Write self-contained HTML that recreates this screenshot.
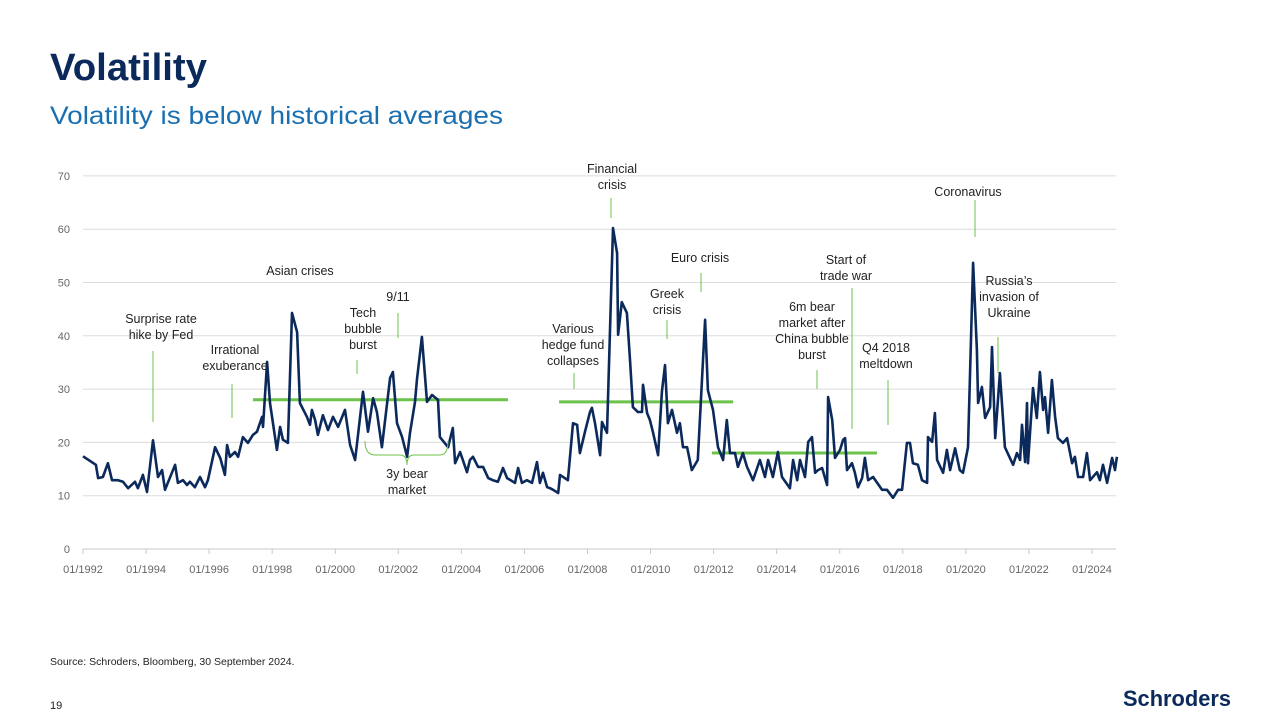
<!DOCTYPE html>
<html><head><meta charset="utf-8"><title>Volatility</title>
<style>
html,body{margin:0;padding:0;background:#fff;width:1280px;height:720px;overflow:hidden;font-family:"Liberation Sans",sans-serif;}
svg{display:block}
</style></head>
<body>
<svg id="page" width="1280" height="720" viewBox="0 0 1280 720" xmlns="http://www.w3.org/2000/svg">
  <text x="50" y="80" font-family="Liberation Sans, sans-serif" font-weight="bold" font-size="38" fill="#0b2a5b" textLength="157" lengthAdjust="spacingAndGlyphs">Volatility</text>
  <text x="50" y="124" font-family="Liberation Sans, sans-serif" font-size="25" fill="#1a6fb0" textLength="453" lengthAdjust="spacingAndGlyphs">Volatility is below historical averages</text>
  <g id="chart"></g>
  <text x="50" y="665" font-family="Liberation Sans, sans-serif" font-size="10.5" fill="#222">Source: Schroders, Bloomberg, 30 September 2024.</text>
  <text x="50" y="709" font-family="Liberation Sans, sans-serif" font-size="11" fill="#222">19</text>
  <text x="1123" y="706" font-family="Liberation Sans, sans-serif" font-weight="bold" font-size="22" fill="#0b2a5b" textLength="108" lengthAdjust="spacingAndGlyphs">Schroders</text>
</svg>
<script>
// ---- data ----
const dates = [1992.00,1992.41,1992.48,1992.63,1992.79,1992.92,1993.11,1993.27,1993.43,1993.65,1993.74,1993.90,1994.03,1994.22,1994.38,1994.51,1994.60,1994.92,1995.01,1995.17,1995.30,1995.39,1995.55,1995.71,1995.87,1995.96,1996.19,1996.35,1996.50,1996.57,1996.66,1996.82,1996.92,1997.07,1997.23,1997.39,1997.52,1997.68,1997.71,1997.84,1997.93,1998.15,1998.25,1998.34,1998.50,1998.63,1998.79,1998.88,1999.10,1999.20,1999.26,1999.36,1999.45,1999.61,1999.77,1999.93,2000.09,2000.31,2000.47,2000.63,2000.88,2001.04,2001.20,2001.32,2001.48,2001.74,2001.83,2001.96,2002.12,2002.28,2002.37,2002.53,2002.59,2002.75,2002.91,2003.07,2003.26,2003.32,2003.58,2003.73,2003.80,2003.96,2004.18,2004.27,2004.37,2004.53,2004.69,2004.85,2005.00,2005.16,2005.32,2005.45,2005.70,2005.80,2005.92,2006.08,2006.24,2006.40,2006.49,2006.59,2006.72,2006.81,2006.91,2007.07,2007.13,2007.38,2007.54,2007.67,2007.76,2007.92,2008.08,2008.14,2008.24,2008.40,2008.46,2008.62,2008.81,2008.94,2008.97,2009.09,2009.25,2009.35,2009.44,2009.60,2009.73,2009.76,2009.89,2009.98,2010.08,2010.24,2010.36,2010.46,2010.55,2010.68,2010.84,2010.93,2011.03,2011.16,2011.31,2011.50,2011.73,2011.82,2011.98,2012.14,2012.30,2012.42,2012.52,2012.68,2012.77,2012.93,2013.06,2013.25,2013.47,2013.63,2013.73,2013.88,2014.04,2014.17,2014.42,2014.52,2014.65,2014.74,2014.90,2015.00,2015.12,2015.22,2015.31,2015.44,2015.60,2015.63,2015.76,2015.85,2016.01,2016.11,2016.17,2016.23,2016.39,2016.48,2016.58,2016.71,2016.80,2016.90,2017.06,2017.19,2017.34,2017.50,2017.69,2017.85,2017.98,2018.13,2018.23,2018.32,2018.48,2018.61,2018.77,2018.80,2018.93,2019.02,2019.09,2019.28,2019.40,2019.50,2019.66,2019.81,2019.91,2020.07,2020.23,2020.35,2020.39,2020.51,2020.61,2020.77,2020.83,2020.93,2021.08,2021.24,2021.50,2021.62,2021.72,2021.78,2021.88,2021.94,2021.97,2022.13,2022.25,2022.35,2022.45,2022.51,2022.61,2022.73,2022.83,2022.92,2023.08,2023.21,2023.37,2023.46,2023.56,2023.72,2023.84,2023.94,2024.16,2024.25,2024.35,2024.48,2024.64,2024.73,2024.79];
const vix = [17.4,15.8,13.3,13.5,16.1,12.9,12.9,12.6,11.4,12.6,11.4,13.9,10.7,20.4,13.5,14.8,11.1,15.8,12.4,12.9,12.0,12.6,11.6,13.5,11.6,12.9,19.1,17.1,13.9,19.5,17.3,18.2,17.3,21.0,19.9,21.4,22.0,24.8,22.9,35.1,27.4,18.6,22.9,20.5,19.9,44.3,40.7,27.4,24.8,23.3,26.1,24.2,21.4,25.1,22.3,24.8,22.9,26.1,19.5,16.7,29.5,22.0,28.3,25.7,19.1,32.1,33.2,23.6,21.0,17.3,21.8,27.6,31.7,39.8,27.6,28.9,28.0,21.0,19.1,22.7,16.1,18.2,14.4,16.7,17.3,15.4,15.4,13.3,12.9,12.6,15.2,13.3,12.4,15.2,12.4,12.9,12.4,16.3,12.4,14.3,11.6,11.4,11.1,10.5,13.9,12.9,23.6,23.3,18.0,22.0,25.7,26.5,23.6,17.6,23.8,21.8,60.2,55.5,40.2,46.3,44.3,35.5,26.6,25.7,25.7,30.8,25.5,24.2,21.8,17.6,29.5,34.5,23.6,26.1,21.8,23.6,19.1,19.1,14.8,16.7,43.0,29.8,26.1,19.1,16.7,24.2,18.0,18.0,15.4,18.0,15.4,12.9,16.7,13.5,16.7,13.5,18.2,13.5,11.4,16.7,12.9,16.7,13.5,20.1,21.0,14.3,14.8,15.2,12.0,28.5,24.2,17.1,18.6,20.5,20.8,14.8,16.1,14.3,11.6,13.3,17.1,12.9,13.5,12.4,11.1,11.1,9.6,11.1,11.1,19.9,19.9,16.1,15.8,12.9,12.4,21.0,20.1,25.5,16.7,14.3,18.6,14.8,18.9,14.8,14.3,19.1,53.7,37.3,27.4,30.4,24.6,26.6,37.9,20.8,33.0,19.1,15.8,18.0,16.7,23.3,16.3,27.4,16.1,30.2,24.6,33.2,26.1,28.5,21.8,31.7,24.8,20.8,19.9,20.8,16.1,17.3,13.5,13.5,18.0,12.9,14.4,12.9,15.8,12.4,17.1,14.8,17.3];
const yTicks = [0,10,20,30,40,50,60,70];
const xTickYears = [1992,1994,1996,1998,2000,2002,2004,2006,2008,2010,2012,2014,2016,2018,2020,2022,2024];
const avgStart = [1997.39,2007.10,2011.95];
const avgEnd = [2005.48,2012.62,2017.18];
const avgValue = [28.0,27.6,18.0];

// ---- axes ----
const X0=83, PXYR=31.53, Y0=549, PXU=5.33;
const xs = t => X0 + (t-1992)*PXYR;
const ys = v => Y0 - v*PXU;
const NS='http://www.w3.org/2000/svg';
const chart=document.getElementById('chart');
function mk(tag,attrs,parent){const e=document.createElementNS(NS,tag);for(const k in attrs)e.setAttribute(k,attrs[k]);(parent||chart).appendChild(e);return e;}

// gridlines + y labels
yTicks.forEach(v=>{
  const g=mk('line',{x1:X0,x2:1116,y1:ys(v),y2:ys(v),stroke:v===0?'#c8c8c8':'#dcdcdc','stroke-width':1});
  
  
  const t=mk('text',{x:70,y:ys(v)+4,'text-anchor':'end','font-size':11,fill:'#666','font-family':'Liberation Sans, sans-serif'});
  
  
  t.textContent=v;
});
// x ticks
xTickYears.forEach(yr=>{
  const tk=mk('line',{x1:xs(yr),x2:xs(yr),y1:Y0,y2:Y0+5,stroke:'#c8c8c8'});
  
  
  const t=mk('text',{x:xs(yr),y:573,'text-anchor':'middle','font-size':11,fill:'#666','font-family':'Liberation Sans, sans-serif'});
  
  
  t.textContent='01/'+yr;
});
// average lines
avgValue.forEach((v,i)=>{
  const l=mk('line',{x1:xs(avgStart[i]),x2:xs(avgEnd[i]),y1:ys(v),y2:ys(v),stroke:'#6cc24a','stroke-width':3});
  
  
});
// series
const d=dates.map((t,i)=>(i?'L':'M')+xs(t).toFixed(1)+','+ys(vix[i]).toFixed(1)).join('');
const p=mk('path',{d:d,fill:'none',stroke:'#0b2a5b','stroke-width':2.6,'stroke-linejoin':'round'});



// annotations
const notes=[
 {lines:['Surprise rate','hike by Fed'],cx:161,y:319,lx:153,l1:351,l2:422},
 {lines:['Irrational','exuberance'],cx:235,y:350,lx:232,l1:384,l2:418},
 {lines:['Asian crises'],cx:300,y:271},
 {lines:['Tech','bubble','burst'],cx:363,y:313,lx:357,l1:360,l2:374},
 {lines:['9/11'],cx:398,y:297,lx:398,l1:313,l2:338},
 {lines:['3y bear','market'],cx:407,y:474},
 {lines:['Various','hedge fund','collapses'],cx:573,y:329,lx:574,l1:373,l2:389},
 {lines:['Financial','crisis'],cx:612,y:169,lx:611,l1:198,l2:218},
 {lines:['Greek','crisis'],cx:667,y:294,lx:667,l1:320,l2:339},
 {lines:['Euro crisis'],cx:700,y:258,lx:701,l1:273,l2:292},
 {lines:['6m bear','market after','China bubble','burst'],cx:812,y:307,lx:817,l1:370,l2:389},
 {lines:['Start of','trade war'],cx:846,y:260,lx:852,l1:288,l2:429},
 {lines:['Q4 2018','meltdown'],cx:886,y:348,lx:888,l1:380,l2:425},
 {lines:['Coronavirus'],cx:968,y:192,lx:975,l1:200,l2:237},
 {lines:['Russia\u2019s','invasion of','Ukraine'],cx:1009,y:281,lx:998,l1:337,l2:373}
];
notes.forEach(n=>{
  const t=mk('text',{x:n.cx,y:n.y+4,'text-anchor':'middle','font-size':12.5,fill:'#222','font-family':'Liberation Sans, sans-serif'});
  
  
  n.lines.forEach((s,i)=>{const ts=mk('tspan',{x:n.cx,dy:i?16:0},t);ts.textContent=s;});
  if(n.lx){
    const l=mk('line',{x1:n.lx,x2:n.lx,y1:n.l1,y2:n.l2,stroke:'#6cc24a','stroke-width':1});
    
    
  }
});
// brace for 3y bear market
const br=mk('path',{d:'M365,441 Q365,455 375,455 L400,455 Q407,455 407,465 Q407,455 414,455 L440,455 Q448,455 448,441',fill:'none',stroke:'#6cc24a','stroke-width':1});


</script>
</body></html>
